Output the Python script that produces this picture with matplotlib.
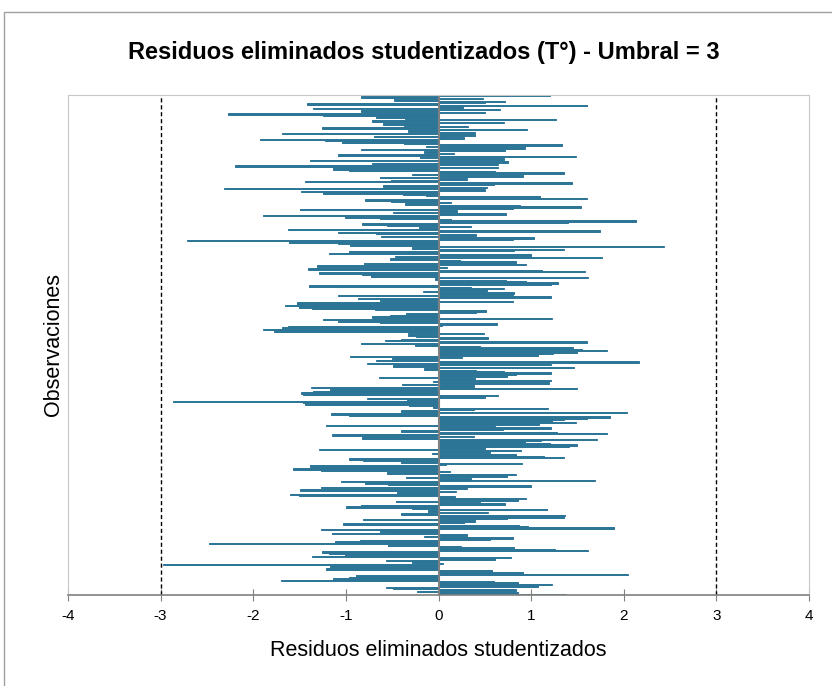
import numpy as np
import matplotlib.pyplot as plt
from matplotlib.patches import Rectangle

plt.rcParams['font.family'] = ['Liberation Sans', 'DejaVu Sans']

# studentized deleted residuals, read top to bottom
res_part1 = [1.2, -0.84, 0.48, -0.48, 0.72, 0.5, -1.42, 1.6, 0.26, -1.35, 0.66, -0.84, 0.5, -2.27,
             -1.25, -0.67, -0.36, 1.27, -0.72, 0.71, -0.6, -0.37, 0.32, -1.26, 0.96, -0.33, 0.39,
             -1.69, 0.39, -0.7, 0.27, -1.93, -1.23, -1.04, -0.37, 1.33, -0.14, 0.93, -0.84, 0.72,
             -0.16, 0.17, -1.09, 1.48, -0.2, 0.71, -1.39, 0.75, -0.72, 0.64, -2.2, 0.64, -1.14,
             -0.97, 0.61, 1.35, -0.29, 0.91, -0.63, 0.31, -0.51, -1.44, 1.44, 0.6]
res_part2 = [-0.6, 0.52, -2.32, 0.5, -1.48, -1.25, -0.38, -0.14, 1.1, 1.6, -0.79, -0.51, 0.14,
             -0.36, 0.88, 1.54, 0.8, -1.49, 0.2, -0.49, 0.73, -1.9, -1.01, -0.63, 0.13, 2.13, 1.4,
             -0.83, -0.56, 0.35, -0.21, -1.63, 1.74, -1.08, -0.68, 0.41, -0.62, 1.03, 0.8, -2.71,
             -1.61, -1.09, -0.96, 2.43, -0.29, 1.36, 0.82, -0.97, -1.18, 1.0, -0.47, 1.77, -0.52,
             0.23, 0.84, -0.8, 0.95, -1.31, 0.09, -1.41, 1.12, 1.58, -1.29, -0.83]
res_part3 = [-0.73, 1.61, -0.04, 0.73, 0.95, 1.29, 1.21, -1.4, 0.35, 0.71, 0.52, -0.17, 0.81, 0.8,
             -1.09, 1.21, -0.87, -0.63, 0.8, -1.53, -1.53, -1.66, -1.51, -1.37, -0.69, 0.51, 0.4,
             -0.35, -0.52, -0.72, 1.23, -1.25, -1.09, -0.63, 0.63, 0.04, -1.62, -1.69, -1.9, -1.78,
             -0.33, 0.49, -0.33, -0.24, 0.53, -0.41, -0.58, 1.6, -0.84, -0.25, 0.45, 1.45, 1.55,
             1.82, 1.5, 1.24, 1.07]
res_part4 = [-0.96, 0.25, -0.5, -0.67, 2.17, -0.77, 1.21, -0.49, 1.46, -0.16, 0.4, 0.71, 1.21, 0.84,
             0.74, -0.64, 0.39, 1.21, -0.06, 1.19, -0.39, 0.38, -1.38, 1.49, -1.17, -1.35, -1.48,
             -1.46, 0.64, 0.5, -0.77, -0.34, -2.87, -1.46, -1.44, -0.32, -0.06, 1.18, 0.38, -0.4,
             2.04, -1.16, -0.97, 1.85, 1.6, 1.35, 1.23, 1.48, 1.09, -1.21, 0.61, 1.21, 0.7, -0.4,
             1.28, 1.82, -1.15, 0.38, -0.83, 1.71, 1.11]
res_part5 = [0.93, 1.2, 1.5, 1.41, 0.5, -1.29, 0.89, 0.56, -0.07, 0.84, 1.14, 1.35, -0.97, -0.82,
             -0.4, 0.9, 0.08, -1.39, -1.34, -1.57, -1.27, 0.12, -0.56, 0.84, 0.74, -0.35, 0.35,
             1.69, -1.05, -0.79, -0.55, 1.0, -1.27, 0.31, -1.49, 0.19, -0.45, -1.6, -1.51, 0.18,
             0.95, 0.86, -0.46, 0.45, 0.72, -0.84, -1.0, -0.29, 1.17, -0.11, 0.53, -0.41, 1.37,
             1.35, 0.74, -0.81, 0.39, 0.28, -1.03]
res_part6 = [0.87, 0.97, 1.9, -1.27, -0.63, -0.5, -1.15, 0.31, -0.16, 0.8, 0.56, -0.85, -1.12,
             -2.48, -0.54, 0.24, 0.82, 1.26, 1.61, -1.26, -1.18, -1.01, -1.37, 0.78, 0.61, -0.57,
             -0.29, 0.05, -2.97, -1.17, -1.15, -1.21, 0.58, 0.58, 0.91, 2.05, -0.89, -0.97, -1.14,
             -1.7, 0.6, 0.86, 1.23, 1.07, -0.57, -0.49, 0.84, -0.23, 0.86, 1.38]

threshold = 3
x_ticks = [-4, -3, -2, -1, 0, 1, 2, 3, 4]

residuals = res_part1 + res_part2 + res_part3 + res_part4 + res_part5 + res_part6
obs = np.arange(len(residuals))

fig = plt.figure(figsize=(8.32, 6.86), dpi=100)
ax = fig.add_axes([68 / 832, 1 - 595 / 686, (809 - 68) / 832, 500 / 686])

ax.barh(obs, residuals, height=1.0, color='#2c7597', edgecolor='#2c7597', linewidth=0.7)

ax.axvline(-threshold, color='black', linestyle=(0, (3, 2)), linewidth=1)
ax.axvline(threshold, color='black', linestyle=(0, (3, 2)), linewidth=1)
ax.axvline(0, color='#808080', linewidth=1.5)

ax.set_xlim(-4, 4)
ax.set_ylim(len(residuals) - 0.5, -0.5)
ax.set_xticks(x_ticks)
ax.set_xticklabels([str(t) for t in x_ticks], fontsize=11)
ax.set_yticks([])
ax.tick_params(axis='x', direction='inout', length=8, color='#808080', pad=6)

for side in ['top', 'right', 'left']:
    ax.spines[side].set_color('#c8c8c8')
ax.spines['bottom'].set_color('#808080')
ax.spines['bottom'].set_linewidth(1.2)

ax.set_xlabel('Residuos eliminados studentizados', fontsize=15.5, labelpad=12)
ax.set_ylabel('Observaciones', fontsize=15.5, labelpad=3)
fig.text(0.5 + 8 / 832, 1 - 53 / 686, 'Residuos eliminados studentizados (T°) - Umbral = 3',
         ha='center', va='center', fontsize=17, fontweight='bold')

# outer chart frame (only left and top edges visible)
fig.patches.append(Rectangle((4 / 832, -0.1), 1.2, 1.1 - 12 / 686, transform=fig.transFigure,
                             fill=False, edgecolor='#a0a0a0', linewidth=1))

fig.savefig('out.png', dpi=100)
